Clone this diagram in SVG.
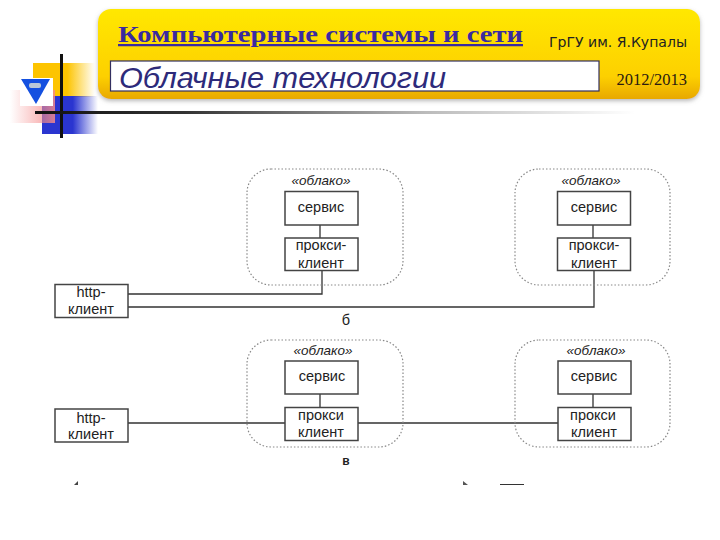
<svg xmlns="http://www.w3.org/2000/svg" width="720" height="540" viewBox="0 0 720 540">
<style>
.cloud{fill:none;stroke:#888;stroke-width:1.2;stroke-dasharray:1.5 2}
.box{fill:#fff;stroke:#444;stroke-width:1.5}
.lbl{font-family:"Liberation Sans",Arial,sans-serif;font-size:14.5px;fill:#222;text-anchor:middle}
.st{font-family:"Liberation Sans",Arial,sans-serif;font-size:13.5px;font-style:italic;fill:#222;text-anchor:middle}
.wire{fill:none;stroke:#333;stroke-width:1.3}
</style>
<defs>
<linearGradient id="hdr" x1="0" y1="0" x2="0" y2="1"><stop offset="0" stop-color="#ffe800"/><stop offset=".75" stop-color="#fdd000"/><stop offset="1" stop-color="#e8a800"/></linearGradient>
<linearGradient id="fy" x1="0" y1="0" x2="1" y2="0"><stop offset="0" stop-color="#fdc400"/><stop offset=".55" stop-color="#fdc400"/><stop offset="1" stop-color="#fdc400" stop-opacity="0"/></linearGradient>
<linearGradient id="fb" x1="0" y1="0" x2="1" y2="0"><stop offset="0" stop-color="#2a35d0"/><stop offset=".55" stop-color="#2a35d0"/><stop offset="1" stop-color="#2a35d0" stop-opacity="0"/></linearGradient>
<linearGradient id="fr" x1="1" y1="0" x2="0" y2="0"><stop offset="0" stop-color="#f58a8a"/><stop offset="1" stop-color="#f58a8a" stop-opacity="0"/></linearGradient>
<linearGradient id="fk" x1="0" y1="0" x2="1" y2="0"><stop offset="0" stop-color="#111"/><stop offset=".25" stop-color="#333"/><stop offset=".65" stop-color="#bbb"/><stop offset="1" stop-color="#fff"/></linearGradient>
<filter id="sh" x="-5%" y="-10%" width="110%" height="130%"><feDropShadow dx="0" dy="2" stdDeviation="2" flood-color="#888" flood-opacity=".6"/></filter>
</defs>
<g id="decor">
<rect x="33" y="63" width="62" height="34" fill="url(#fy)"/>
<rect x="42" y="96" width="56" height="38" fill="url(#fb)"/>
<rect x="10" y="90" width="45" height="33" fill="url(#fr)" opacity=".85"/>
<rect x="20" y="78" width="33" height="28" fill="#fff"/>
<path d="M21 79H50L36 104Z" fill="#1450e0"/>
<rect x="29" y="83" width="12" height="5" rx="2" fill="#b9c8d8"/>
<rect x="60" y="54" width="3" height="84" fill="#111"/>
<rect x="35" y="111" width="600" height="3" fill="url(#fk)"/>
</g>
<g id="header">
<rect x="98" y="9" width="602" height="90" rx="13" fill="url(#hdr)" filter="url(#sh)"/>
<rect x="110.500" y="61" width="488.500" height="30" fill="#fff" stroke="#332f60" stroke-width="1.200"/>
<text x="118" y="42" font-family="'Liberation Serif',serif" font-size="22.500" font-weight="bold" fill="#3a2aa0" text-decoration="underline" textLength="405" lengthAdjust="spacingAndGlyphs">Компьютерные системы и сети</text>
<text x="119" y="88" font-family="'Liberation Sans',sans-serif" font-size="30" font-style="italic" fill="#2d2a7a" textLength="327" lengthAdjust="spacingAndGlyphs">Облачные технологии</text>
<text x="687" y="47" font-family="'DejaVu Sans',sans-serif" font-size="14" fill="#222" text-anchor="end" textLength="138" lengthAdjust="spacingAndGlyphs">ГрГУ им. Я.Купалы</text>
<text x="687" y="85" font-family="'Liberation Serif',serif" font-size="16.500" fill="#2a1a10" text-anchor="end">2012/2013</text>
</g>
<g id="connectors">
<path class="wire" d="M320 225V238M593 225V238M320 394V407M593 394V407"/>
<path class="wire" d="M128 294H322V270M128 307H594V270"/>
<path class="wire" d="M128 423H285M358 423H558"/>
</g>
<g id="http-1"><rect class="box" x="55" y="284.500" width="73" height="33"/><text class="lbl" x="91" y="297">http-</text><text class="lbl" x="91" y="314">клиент</text></g>
<g id="cloud-1"><rect class="cloud" x="247" y="169" width="156" height="116" rx="24"/><text class="st" x="321" y="185">«облако»</text>
<rect class="box" x="285" y="191.500" width="73" height="33.500"/><text class="lbl" x="321" y="212">сервис</text>
<rect class="box" x="285" y="238" width="73" height="32.500"/><text class="lbl" x="321" y="250">прокси-</text><text class="lbl" x="321" y="268">клиент</text></g>
<g id="cloud-2"><rect class="cloud" x="515" y="169" width="155" height="116" rx="24"/><text class="st" x="591" y="185">«облако»</text>
<rect class="box" x="557.500" y="191.500" width="73" height="33.500"/><text class="lbl" x="594" y="212">сервис</text>
<rect class="box" x="557.500" y="238" width="73" height="32.500"/><text class="lbl" x="594" y="250">прокси-</text><text class="lbl" x="594" y="268">клиент</text></g>
<text class="lbl" x="346" y="325">б</text>
<g id="http-2"><rect class="box" x="55" y="409" width="73" height="33"/><text class="lbl" x="91" y="423">http-</text><text class="lbl" x="91" y="439">клиент</text></g>
<g id="cloud-3"><rect class="cloud" x="247" y="340" width="156" height="107" rx="24"/><text class="st" x="323" y="355">«облако»</text>
<rect class="box" x="285" y="361" width="73" height="33"/><text class="lbl" x="322" y="381">сервис</text>
<rect class="box" x="285" y="407.500" width="73" height="33"/><text class="lbl" x="321" y="420">прокси</text><text class="lbl" x="321" y="437">клиент</text></g>
<g id="cloud-4"><rect class="cloud" x="515" y="340" width="155" height="107" rx="24"/><text class="st" x="596" y="355">«облако»</text>
<rect class="box" x="558" y="361" width="73" height="33"/><text class="lbl" x="594" y="381">сервис</text>
<rect class="box" x="558" y="407.500" width="73" height="33"/><text class="lbl" x="593" y="420">прокси</text><text class="lbl" x="594" y="437">клиент</text></g>
<text class="lbl" x="346" y="465" font-weight="bold" style="font-size:12px">в</text>
<path d="M74 485L78 481V485Z" fill="#444"/>
<path d="M463 481L468 485H463Z" fill="#555"/>
<path d="M500 484.500H524" stroke="#333" stroke-width="1"/>
</svg>
